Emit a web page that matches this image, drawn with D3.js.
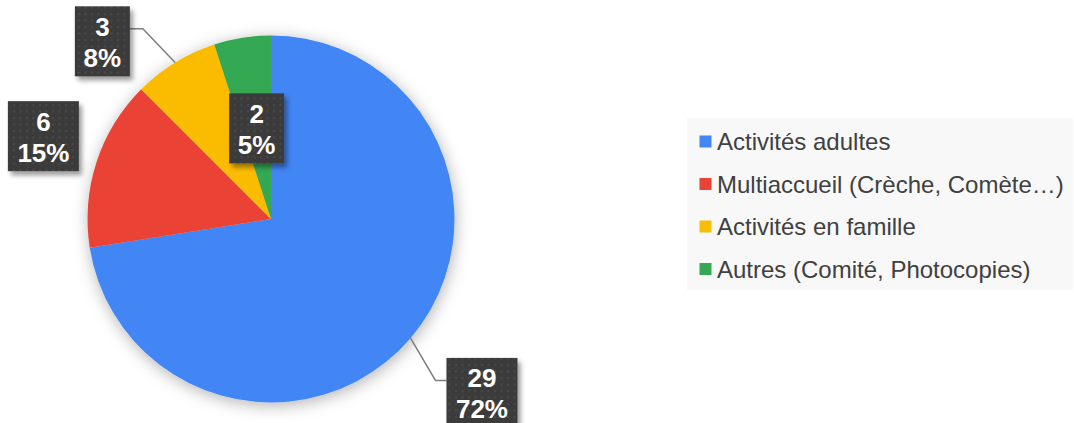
<!doctype html>
<html>
<head>
    <meta charset="UTF-8">
    <title>Répartition</title>
    <script src="https://d3js.org/d3.v7.min.js"></script>
    <style>
        body { margin: 0; background: #fff; }
        svg { display: block; font-family: "Liberation Sans", Arial, sans-serif; }
    </style>
</head>
<body>
    <svg width="1074" height="423"></svg>

    <script>
        // données
        var categories = ["Activités adultes", "Multiaccueil (Crèche, Comète…)", "Activités en famille", "Autres (Comité, Photocopies)"];
        var values = [29, 6, 3, 2];
        var pctLabels = ["72%", "15%", "8%", "5%"];
        var colors = ["#4285F4", "#EA4335", "#FBBC04", "#34A853"];

        // placement des étiquettes : [rayon en fraction de R, décalage d'angle en degrés, ligne de rappel]
        var labelPlace = [[1.49, -1, true], [1.32, 2, false], [1.335, -12, true], [0.5, 0, false]];

        var W = 1074, H = 423;
        var cx = 271, cy = 219, R = 183.5;
        var boxH = 70;

        var svg = d3.select("svg");
        var defs = svg.append("defs");

        // ombre du camembert
        defs.append("filter").attr("id", "pieShadow")
            .attr("x", "-20%").attr("y", "-20%").attr("width", "140%").attr("height", "140%")
            .append("feDropShadow")
            .attr("dx", 1).attr("dy", 3).attr("stdDeviation", 8)
            .attr("flood-color", "#000").attr("flood-opacity", 0.3);

        // ombre des étiquettes
        defs.append("filter").attr("id", "boxShadow")
            .attr("x", "-30%").attr("y", "-30%").attr("width", "160%").attr("height", "160%")
            .append("feDropShadow")
            .attr("dx", 3).attr("dy", 4).attr("stdDeviation", 2.5)
            .attr("flood-color", "#000").attr("flood-opacity", 0.4);

        // motif pointillé des étiquettes
        var pat = defs.append("pattern").attr("id", "dots")
            .attr("patternUnits", "userSpaceOnUse").attr("width", 6.5).attr("height", 6.5);
        pat.append("rect").attr("width", 6.5).attr("height", 6.5).attr("fill", "#3a3a3a");
        pat.append("rect").attr("x", 2).attr("y", 2).attr("width", 2).attr("height", 2).attr("fill", "#4b4b4b");

        var pie = d3.pie().sort(null).value(function (d) { return d; });
        var arcs = pie(values);
        var arc = d3.arc().innerRadius(0).outerRadius(R);

        var g = svg.append("g").attr("transform", "translate(" + cx + "," + cy + ")");

        g.append("g").attr("filter", "url(#pieShadow)")
            .selectAll("path").data(arcs).enter().append("path")
            .attr("d", arc)
            .attr("fill", function (d, i) { return colors[i]; });

        function polar(r, a) {
            return [r * Math.sin(a), -r * Math.cos(a)];
        }

        // étiquettes
        arcs.forEach(function (d, i) {
            var mid = (d.startAngle + d.endAngle) / 2;
            var p = labelPlace[i];
            var c = polar(p[0] * R, mid + p[1] * Math.PI / 180);
            var txt = [String(d.value), pctLabels[i]];
            var bw = pctLabels[i].length > 2 ? 71 : 55;
            var bx = c[0] - bw / 2, by = c[1] - boxH / 2;

            if (p[2]) {
                var s = polar(R, mid);
                var right = c[0] > 0;
                var edgeX = right ? bx : bx + bw;
                var elbowX = right ? edgeX - 11 : edgeX + 13;
                var elbowY = by + 22.5;
                g.append("polyline")
                    .attr("points", [s, [elbowX, elbowY], [edgeX, elbowY]].map(function (q) { return q.join(","); }).join(" "))
                    .attr("fill", "none")
                    .attr("stroke", "#7f7f7f")
                    .attr("stroke-width", 1.5);
            }

            var lg = g.append("g");
            lg.append("rect")
                .attr("x", bx).attr("y", by)
                .attr("width", bw).attr("height", boxH)
                .attr("fill", "url(#dots)")
                .attr("filter", "url(#boxShadow)");
            lg.selectAll("text").data(txt).enter().append("text")
                .attr("x", c[0])
                .attr("y", function (t, k) { return c[1] - 15 + k * 31; })
                .attr("dy", "0.36em")
                .attr("text-anchor", "middle")
                .attr("fill", "#fff")
                .attr("font-weight", "bold")
                .attr("font-size", 26)
                .text(function (t) { return t; });
        });

        // légende
        var legend = svg.append("g").attr("transform", "translate(687,118)");
        legend.append("rect").attr("width", 386).attr("height", 172).attr("fill", "#f8f8f8");

        var yLeg = d3.scalePoint().domain(categories).range([23.5, 151]);

        var item = legend.selectAll("g.item").data(categories).enter().append("g")
            .attr("class", "item")
            .attr("transform", function (d) { return "translate(0," + yLeg(d) + ")"; });
        item.append("rect")
            .attr("x", 12.5).attr("y", -6)
            .attr("width", 12).attr("height", 12)
            .attr("fill", function (d, i) { return colors[i]; });
        item.append("text")
            .attr("x", 30).attr("dy", "0.36em")
            .attr("font-size", 24)
            .attr("fill", "#404040")
            .text(function (d) { return d; });
    </script>
</body>
</html>
